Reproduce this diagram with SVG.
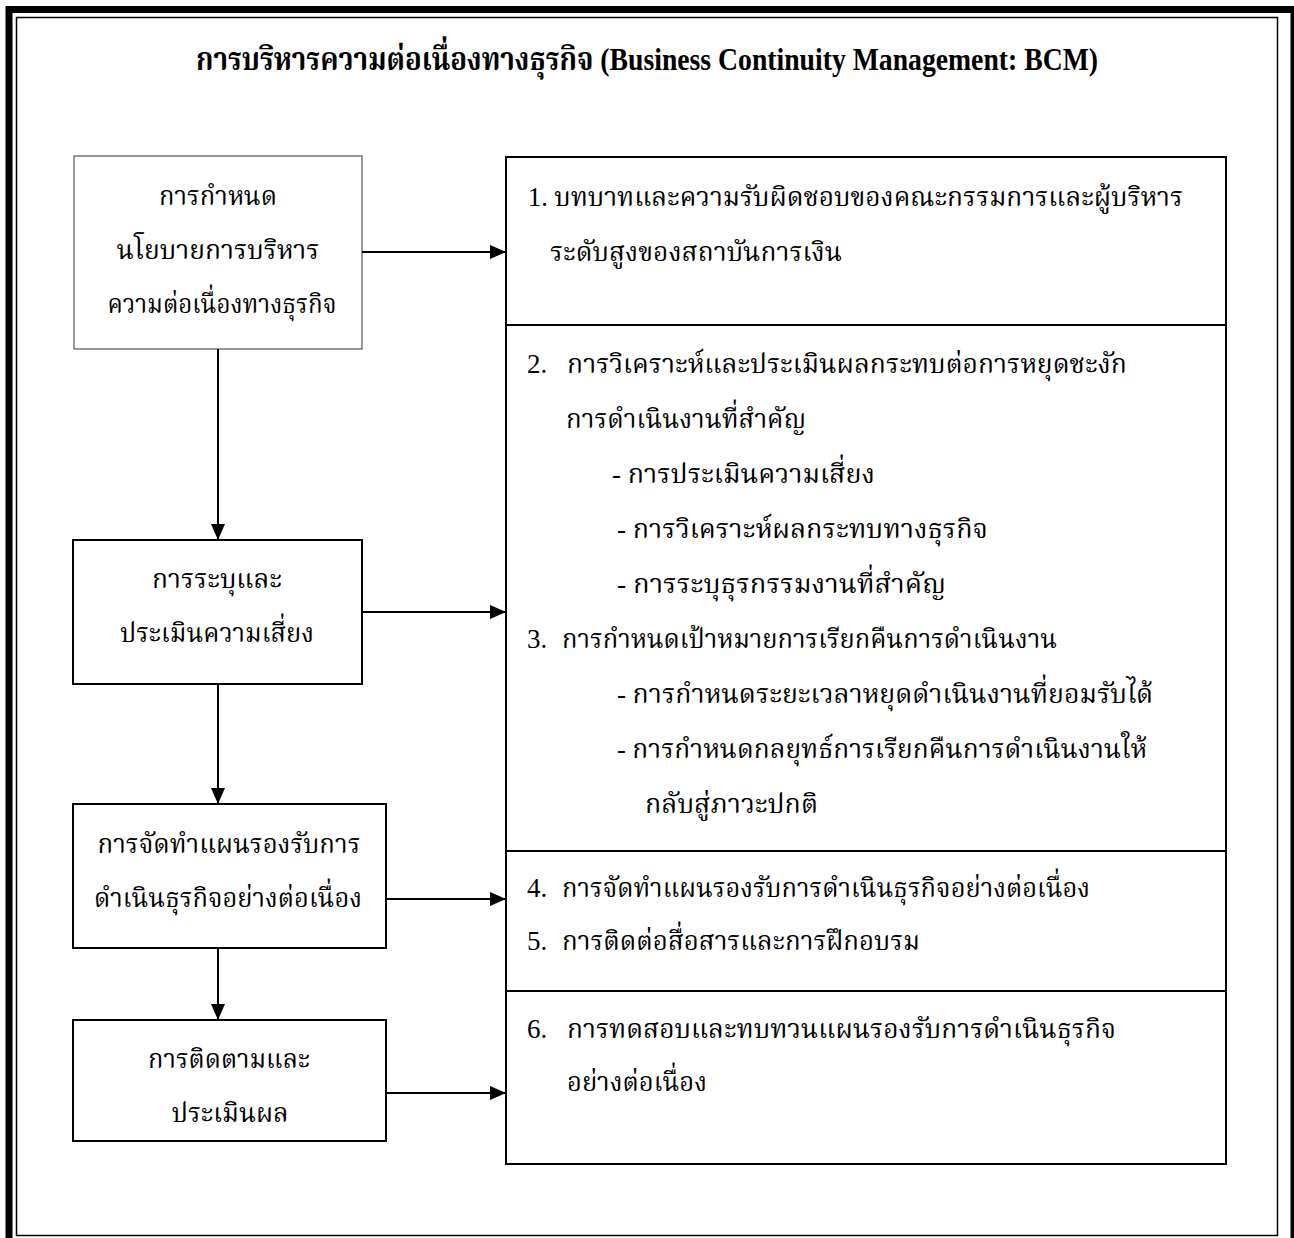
<svg xmlns="http://www.w3.org/2000/svg" width="1294" height="1238" viewBox="0 0 1294 1238">
<defs>
<marker id="ah" markerWidth="16" markerHeight="14" refX="16" refY="7" orient="auto" markerUnits="userSpaceOnUse">
<path d="M0,0 L16,7 L0,14 Z" fill="#000"/>
</marker>
<style>
.t{font-family:"Liberation Serif","Noto Serif Thai","Angsana New","TH Sarabun New","Norasi","DejaVu Serif",serif;font-size:27px;fill:#000}
.c{text-anchor:middle}
.title{font-family:"Liberation Serif","Noto Serif Thai","Angsana New","TH Sarabun New","Norasi","DejaVu Serif",serif;font-size:32px;font-weight:bold;fill:#000;text-anchor:middle}
.box{fill:#fff;stroke:#000;stroke-width:2}
.conn{stroke:#000;stroke-width:2;fill:none;marker-end:url(#ah)}
</style>
</defs>
<rect x="0" y="0" width="1294" height="1238" fill="#fff"/>
<g id="frame">
<rect x="9" y="9.5" width="1285" height="1240" fill="none" stroke="#000" stroke-width="7"/>
<rect x="16.5" y="17.5" width="1261" height="1218" fill="none" stroke="#000" stroke-width="1.5"/>
</g>
<g id="title">
<text class="title" x="647" y="70" textLength="902" lengthAdjust="spacingAndGlyphs">การบริหารความต่อเนื่องทางธุรกิจ (Business Continuity Management: BCM)</text>
</g>
<g id="n1">
<rect class="box" x="74" y="156" width="288" height="193" style="stroke:#555;stroke-width:1.2"/>
<text class="t c" x="218" y="205" textLength="118" lengthAdjust="spacingAndGlyphs">การกำหนด</text>
<text class="t c" x="218" y="259" textLength="203" lengthAdjust="spacingAndGlyphs">นโยบายการบริหาร</text>
<text class="t c" x="222" y="313" textLength="229" lengthAdjust="spacingAndGlyphs">ความต่อเนื่องทางธุรกิจ</text>
</g>
<g id="n2">
<rect class="box" x="73" y="540" width="289" height="144"/>
<text class="t c" x="217" y="588" textLength="130" lengthAdjust="spacingAndGlyphs">การระบุและ</text>
<text class="t c" x="217" y="642" textLength="194" lengthAdjust="spacingAndGlyphs">ประเมินความเสี่ยง</text>
</g>
<g id="n3">
<rect class="box" x="73" y="804" width="313" height="144"/>
<text class="t c" x="229" y="853" textLength="263" lengthAdjust="spacingAndGlyphs">การจัดทำแผนรองรับการ</text>
<text class="t c" x="228" y="907" textLength="268" lengthAdjust="spacingAndGlyphs">ดำเนินธุรกิจอย่างต่อเนื่อง</text>
</g>
<g id="n4">
<rect class="box" x="73" y="1020" width="313" height="121"/>
<text class="t c" x="229" y="1068" textLength="162" lengthAdjust="spacingAndGlyphs">การติดตามและ</text>
<text class="t c" x="230" y="1122" textLength="117" lengthAdjust="spacingAndGlyphs">ประเมินผล</text>
</g>
<g id="r1">
<rect class="box" x="506" y="157" width="720" height="168"/>
<text class="t" x="528" y="206" textLength="655" lengthAdjust="spacingAndGlyphs">1. บทบาทและความรับผิดชอบของคณะกรรมการและผู้บริหาร</text>
<text class="t" x="550" y="261" textLength="292" lengthAdjust="spacingAndGlyphs">ระดับสูงของสถาบันการเงิน</text>
</g>
<g id="r2">
<rect class="box" x="506" y="325" width="720" height="526"/>
<text class="t" x="527" y="373">2.</text>
<text class="t" x="567" y="373" textLength="560" lengthAdjust="spacingAndGlyphs">การวิเคราะห์และประเมินผลกระทบต่อการหยุดชะงัก</text>
<text class="t" x="566" y="428" textLength="240" lengthAdjust="spacingAndGlyphs">การดำเนินงานที่สำคัญ</text>
<text class="t" x="612" y="483" textLength="263" lengthAdjust="spacingAndGlyphs">-  การประเมินความเสี่ยง</text>
<text class="t" x="617" y="538" textLength="371" lengthAdjust="spacingAndGlyphs">-  การวิเคราะห์ผลกระทบทางธุรกิจ</text>
<text class="t" x="617" y="593" textLength="329" lengthAdjust="spacingAndGlyphs">-  การระบุธุรกรรมงานที่สำคัญ</text>
<text class="t" x="527" y="648">3.</text>
<text class="t" x="562" y="648" textLength="495" lengthAdjust="spacingAndGlyphs">การกำหนดเป้าหมายการเรียกคืนการดำเนินงาน</text>
<text class="t" x="617" y="703" textLength="536" lengthAdjust="spacingAndGlyphs">-  การกำหนดระยะเวลาหยุดดำเนินงานที่ยอมรับได้</text>
<text class="t" x="617" y="758" textLength="530" lengthAdjust="spacingAndGlyphs">-  การกำหนดกลยุทธ์การเรียกคืนการดำเนินงานให้</text>
<text class="t" x="645" y="813" textLength="173" lengthAdjust="spacingAndGlyphs">กลับสู่ภาวะปกติ</text>
</g>
<g id="r3">
<rect class="box" x="506" y="851" width="720" height="140"/>
<text class="t" x="527" y="897">4.</text>
<text class="t" x="562" y="897" textLength="528" lengthAdjust="spacingAndGlyphs">การจัดทำแผนรองรับการดำเนินธุรกิจอย่างต่อเนื่อง</text>
<text class="t" x="527" y="950">5.</text>
<text class="t" x="562" y="950" textLength="358" lengthAdjust="spacingAndGlyphs">การติดต่อสื่อสารและการฝึกอบรม</text>
</g>
<g id="r4">
<rect class="box" x="506" y="991" width="720" height="173"/>
<text class="t" x="527" y="1038">6.</text>
<text class="t" x="567" y="1038" textLength="549" lengthAdjust="spacingAndGlyphs">การทดสอบและทบทวนแผนรองรับการดำเนินธุรกิจ</text>
<text class="t" x="567" y="1091" textLength="140" lengthAdjust="spacingAndGlyphs">อย่างต่อเนื่อง</text>
</g>
<g id="connectors">
<line class="conn" x1="362" y1="252" x2="506" y2="252"/>
<line class="conn" x1="362" y1="612" x2="506" y2="612"/>
<line class="conn" x1="386" y1="899" x2="506" y2="899"/>
<line class="conn" x1="386" y1="1093" x2="506" y2="1093"/>
<line class="conn" x1="218" y1="349" x2="218" y2="540"/>
<line class="conn" x1="218" y1="684" x2="218" y2="804"/>
<line class="conn" x1="218" y1="948" x2="218" y2="1020"/>
</g>
</svg>
